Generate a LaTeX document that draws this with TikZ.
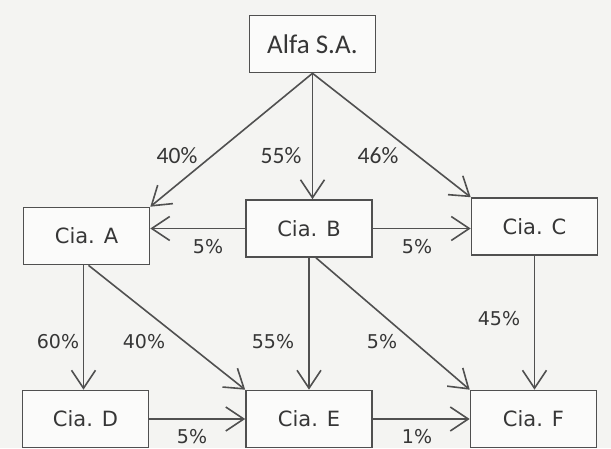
\documentclass[tikz,border=0pt]{standalone}
\usepackage{fontspec}
\setmainfont{DejaVu Sans}
\newfontfamily\calfont{Carlito}
\usetikzlibrary{arrows.meta}
\definecolor{bgc}{HTML}{F4F4F2}
\definecolor{ink}{HTML}{363636}
\definecolor{linec}{HTML}{505050}
\tikzset{
  box/.style={draw=linec, line width=1.6pt, fill=white!60!bgc, minimum width=126pt, minimum height=57pt, inner sep=0pt, text=ink, font=\fontsize{21}{21}\selectfont},
  topbox/.style={box, font=\calfont\fontsize{27}{27}\selectfont},
  lbl/.style={text=ink, inner sep=0pt, font=\fontsize{19}{19}\selectfont},
  toplbl/.style={text=ink, inner sep=0pt, font=\calfont\fontsize{23.5}{23.5}\selectfont},
  arr/.style={draw=linec, line width=1.6pt, -{Straight Barb[length=18pt,width=24pt,line width=1.6pt]}}
}
\begin{document}
\begin{tikzpicture}[x=1pt,y=-1pt]
\fill[bgc] (0,0) rectangle (611,448);
\useasboundingbox (0,0) rectangle (611,448);

\node[topbox] (alfa) at (312.5,44) {Alfa S.A.};
\node[box] (a) at (86.5,236) {Cia. A};
\node[box] (b) at (309,228.5) {Cia. B};
\node[box] (c) at (534.5,226.5) {Cia. C};
\node[box] (d) at (85.5,419) {Cia. D};
\node[box] (e) at (309,419) {Cia. E};
\node[box] (f) at (533.5,419) {Cia. F};

\draw[arr] (alfa.south) -- (a.north east);
\draw[arr] (alfa.south) -- (alfa.south |- b.north);
\draw[arr] (alfa.south) -- (c.north west);
\draw[arr] (b.west) -- (b.west -| a.east);
\draw[arr] (b.east) -- (b.east -| c.west);
\draw[arr] ([xshift=-3pt]a.south) -- ([xshift=-3pt]a.south |- d.north);
\draw[arr] ([xshift=2pt]a.south) -- (e.north west);
\draw[arr] (b.south) -- (b.south |- e.north);
\draw[arr] ([xshift=7pt]b.south) -- (f.north west);
\draw[arr] (c.south) -- (c.south |- f.north);
\draw[arr] (d.east) -- (d.east -| e.west);
\draw[arr] (e.east) -- (e.east -| f.west);

\node[toplbl] (l1) at (177,156) {40\%};
\node[toplbl] (l2) at (281,156) {55\%};
\node[toplbl] (l3) at (378,156) {46\%};
\node[lbl] (l4) at (208,247) {5\%};
\node[lbl] (l5) at (417,247) {5\%};
\node[lbl] (l6) at (58,342) {60\%};
\node[lbl] (l7) at (144,342) {40\%};
\node[lbl] (l8) at (273,342) {55\%};
\node[lbl] (l9) at (382,342) {5\%};
\node[lbl] (l10) at (499,319) {45\%};
\node[lbl] (l11) at (192,437) {5\%};
\node[lbl] (l12) at (417,437) {1\%};
\end{tikzpicture}
\end{document}
